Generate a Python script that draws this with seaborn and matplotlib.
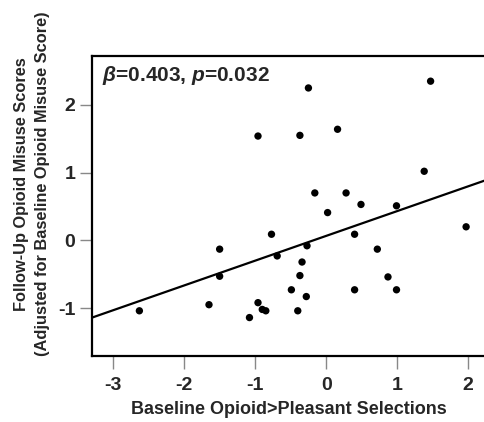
"""Partial regression scatter: follow-up opioid misuse vs baseline opioid>pleasant selections."""
import matplotlib
matplotlib.use("Agg")
import matplotlib.pyplot as plt
import pandas as pd
import seaborn as sns

# values
baseline_selections = [
    -0.96, -0.25, 1.47, -0.37, 0.16, 1.38, -0.16, 0.28, 0.49, 0.99, 0.02,
    -0.77, -0.69, -0.27, 0.40, 0.72, -0.34, -0.37, -0.49, -0.28, -0.40,
    0.40, 0.87, 0.99, 1.97,
    -2.63, -1.50, -1.50, -1.65, -0.96, -0.90, -0.85, -1.08,
]
followup_misuse = [
    1.54, 2.25, 2.35, 1.55, 1.64, 1.02, 0.70, 0.70, 0.53, 0.51, 0.41,
    0.09, -0.23, -0.08, 0.09, -0.13, -0.32, -0.52, -0.73, -0.83, -1.04,
    -0.73, -0.54, -0.73, 0.20,
    -1.04, -0.13, -0.53, -0.95, -0.92, -1.02, -1.04, -1.14,
]
# fitted line as printed (adjusted model, not a plain OLS of the points)
fit_intercept = 0.066
fit_slope = 0.366
x_ticks = [-3, -2, -1, 0, 1, 2]
y_ticks = [-1, 0, 1, 2]
stats_label = r"$\beta$=0.403, $p$=0.032"

sns.set_theme(style="ticks")
plt.rcParams["font.family"] = ["Liberation Sans", "DejaVu Sans"]
plt.rcParams["font.weight"] = "bold"
plt.rcParams["axes.unicode_minus"] = False
plt.rcParams["mathtext.fontset"] = "custom"
plt.rcParams["mathtext.it"] = "Liberation Sans:italic:bold"
plt.rcParams["mathtext.rm"] = "Liberation Sans:bold"

df = pd.DataFrame({"baseline": baseline_selections, "followup": followup_misuse})

fig = plt.figure(figsize=(4.85, 4.22), dpi=100)
ax = fig.add_axes([0.19, 0.156, 0.81, 0.711])

sns.scatterplot(data=df, x="baseline", y="followup", ax=ax, s=28,
                color="black", edgecolor="none", zorder=3)
ax.axline((0, fit_intercept), slope=fit_slope, color="black", lw=1.6)

ax.set_xlim(-3.295, 2.236)
ax.set_ylim(-1.71, 2.72)
ax.set_xticks(x_ticks)
ax.set_yticks(y_ticks)
ax.tick_params(axis="both", direction="out", length=9, width=1, color="#888888",
               labelsize=14)
ax.tick_params(axis="x", pad=6)
ax.tick_params(axis="y", pad=3)
for lab in ax.get_xticklabels() + ax.get_yticklabels():
    lab.set_fontweight("bold")
for side in ["left", "bottom", "top"]:
    ax.spines[side].set_linewidth(1.6)
    ax.spines[side].set_color("black")
ax.spines["right"].set_visible(False)

ax.set_xlabel("Baseline Opioid>Pleasant Selections", fontsize=13, fontweight="bold")
ax.xaxis.set_label_coords(0.5, -0.15)
ax.xaxis.label.set_va("top")
ax.set_ylabel("Follow-Up Opioid Misuse Scores\n(Adjusted for Baseline Opioid Misuse Score)",
              fontsize=11.8, fontweight="bold", linespacing=1.5)
ax.yaxis.set_label_coords(-0.107, 0.575)

ax.text(0.025, 0.937, stats_label, transform=ax.transAxes, fontsize=15,
        fontweight="bold", va="center", ha="left")

fig.savefig("out.png", dpi=100)
plt.close(fig)
